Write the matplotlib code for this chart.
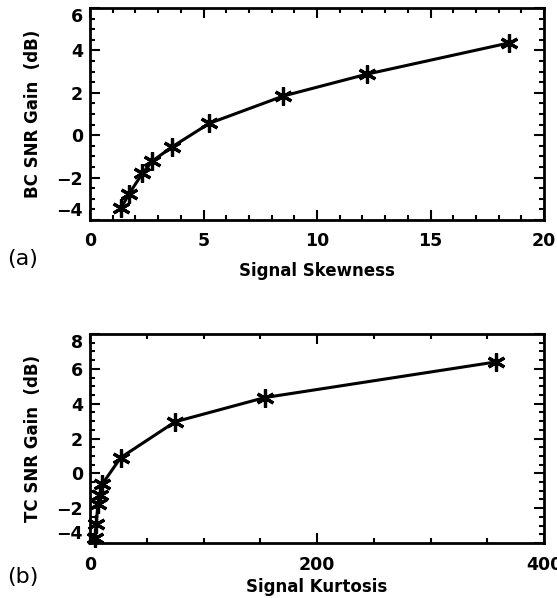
import numpy as np
import matplotlib
matplotlib.use('Agg')
import matplotlib.pyplot as plt
from matplotlib.ticker import MultipleLocator

# BC gain vs skewness
skew = [1.36, 1.73, 2.31, 2.75, 3.6, 5.26, 8.52, 12.2, 18.45]
bc_gain = [-3.45, -2.75, -1.8, -1.22, -0.56, 0.56, 1.85, 2.88, 4.35]

# TC gain vs kurtosis
kurt = [4.5, 5.5, 7.0, 8.5, 10.8, 27, 75, 154, 358]
tc_gain = [-3.7, -2.9, -1.75, -1.25, -0.62, 0.9, 2.96, 4.35, 6.4]

plt.rcParams['font.family'] = 'DejaVu Sans'

W, H = 557, 598
fig = plt.figure(figsize=(W/100, H/100), dpi=100)

def px_axes(left, top, right, bottom):
    return fig.add_axes([left/W, 1-bottom/H, (right-left)/W, (bottom-top)/H])

def style(ax, xmaj, xmin, ymaj, ymin, xlim, ylim):
    ax.set_xlim(*xlim)
    ax.set_ylim(*ylim)
    ax.xaxis.set_major_locator(MultipleLocator(xmaj))
    ax.xaxis.set_minor_locator(MultipleLocator(xmin))
    ax.yaxis.set_major_locator(MultipleLocator(ymaj))
    ax.yaxis.set_minor_locator(MultipleLocator(ymin))
    ax.tick_params(which='both', direction='in', top=True, right=True, width=1.5)
    ax.tick_params(which='major', length=7)
    ax.tick_params(which='minor', length=3.5)
    ax.tick_params(axis='x', pad=9)
    ax.tick_params(axis='y', pad=5)
    for lab in ax.get_xticklabels() + ax.get_yticklabels():
        lab.set_fontsize(12.5)
        lab.set_fontweight('bold')
    for s in ax.spines.values():
        s.set_linewidth(2)

def pull_in_end_labels(ax):
    # end labels on the y axis sit inside the frame
    lo, hi = ax.get_ylim()
    for t in ax.yaxis.get_major_ticks():
        if abs(t.get_loc() - lo) < 1e-9:
            t.label1.set_va('bottom')
        elif abs(t.get_loc() - hi) < 1e-9:
            t.label1.set_va('top')

mk = dict(marker=(6, 2, 0), markersize=13, markeredgewidth=2.3,
          color='black', linewidth=2.2, clip_on=False)

# (a)
ax1 = px_axes(90, 8, 544, 220)
ax1.plot(skew, bc_gain, **mk)
style(ax1, 5, 1, 2, 0.5, (0, 20), (-4, 6))
ax1.set_xlabel('Signal Skewness', fontsize=12, fontweight='bold', va='center')
ax1.xaxis.set_label_coords(0.5, (220-271)/212)
ax1.set_ylabel('BC SNR Gain  (dB)', fontsize=12, fontweight='bold', va='center')
ax1.yaxis.set_label_coords((33-90)/454, 0.5)
fig.text(23/W, 1-259/H, '(a)', fontsize=16, ha='center', va='center')

# (b)
ax2 = px_axes(90, 334, 544, 543)
ax2.plot(kurt, tc_gain, **mk)
style(ax2, 200, 50, 2, 0.5, (0, 400), (-4, 8))
ax2.set_xlabel('Signal Kurtosis', fontsize=12, fontweight='bold', va='center')
ax2.xaxis.set_label_coords(0.5, (543-587)/209)
ax2.set_ylabel('TC SNR Gain  (dB)', fontsize=12, fontweight='bold', va='center')
ax2.yaxis.set_label_coords((33-90)/454, 0.5)
fig.text(23/W, 1-577/H, '(b)', fontsize=16, ha='center', va='center')

fig.canvas.draw()
pull_in_end_labels(ax1)
pull_in_end_labels(ax2)

fig.savefig('out.png', dpi=100)
